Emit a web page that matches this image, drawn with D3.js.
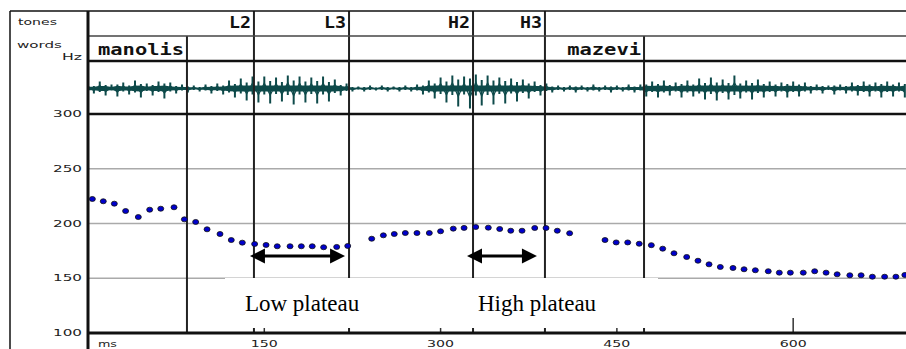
<!DOCTYPE html>
<html><head><meta charset="utf-8">
<script src="https://cdn.jsdelivr.net/npm/d3@7"></script>
<style>body{margin:0;background:#fff}svg{display:block}</style>
</head><body>
<svg id="chart" width="906" height="349"></svg>
<script>
// ---- data ----
const pitchTimes = [3.7,13,22.4,32,42.8,52.5,61.9,73.2,82,91.6,101.3,112.3,121.9,131.3,141.8,151.5,161,171.9,181.5,190.8,200.5,211.6,221,
  241.4,251.3,260.6,270,279.9,290.4,300,310.8,320,329.9,340.6,350.3,359.7,369.3,380.1,389.7,399.3,409.8,
  439.9,449.4,459.2,469,479.3,489,498.6,509.4,519,528.4,538,548.8,558.2,567.8,578.8,588.2,597.6,608.6,618.3,628,637.4,648.2,657.8,667.4,677.8,687.4,695];
const pitchHz = [222.4,220.3,218.1,211.4,205.9,212.6,213.5,214.8,203.8,201.4,194.7,190.4,184.9,182.5,181.3,180.4,179.2,179.2,179.2,179.2,178.3,178.6,179.5,
  186.1,189.2,190.4,191.3,191.3,191.3,192.9,195.3,196.0,196.8,196.2,195.0,193.4,193.4,195.9,195.9,193.4,191.1,
  184.9,182.7,182.7,181.5,180.2,177.0,172.8,169.4,166.0,162.7,160.3,159.4,158.2,157.3,156.4,155.1,155.1,155.1,156.4,155.1,153.6,152.7,152.7,151.4,151.4,151.4,153];
// waveform samples (alternating peaks, px-like amplitude units), one every 5 ms
const waveStep = 5;
const waveAmp = [5,-5,7,-7,4,-8,6,-6,8,-9,5,-7,7,-10,6,
  -5,4,-4,3,-3,4,-5,5,-6,
  8,-9,10,-12,12,
  -14,12,-15,11,-13,13,-16,12,-14,11,-15,12,-13,9,
  -7,5,
  -3,2,-3,3,-2,3,-3,2,-3,3,-3,4,
  -6,8,-10,11,-14,
  13,-18,12,-20,14,-17,13,
  -16,11,-15,10,-13,
  9,-10,7,-7,5,
  -4,3,-3,3,-4,3,-3,4,-3,3,-4,3,-3,4,-4,4,
  -8,7,-9,8,-7,6,-9,8,-8,10,-11,11,
  -12,9,-11,13,-10,8,-11,9,
  -9,7,-8,6,-9,7,-8,6,
  -5,4,-5,3,-6,4,-5,6,-7,
  7,-8,6,-9,7,-8,6,-9];
const yTicks = [300,250,200,150,100];
const gridHz = [250,200,150];
const xTicks = [150,300,450,600];
const toneLabels = ["L2","L3","H2","H3"];
const toneTimes = [141.2,222.1,327.6,388.8];
const wordLabels = ["manolis","mazevi"];
const wordStarts = [0,388.8];
const wordEnds = [84.2,473.1];
const wordBoundaries = [84.2,473.1];
const plateauLabels = ["Low plateau","High plateau"];
const plateauStart = [137.8,322.5];
const plateauEnd = [218.7,382];
const plateauLabelTime = [133.5,331.8];

// ---- layout ----
const svg = d3.select("#chart");
const W = 906, H = 349;
const frameLeft = 10, plotLeft = 88, topY = 11, tonesBottom = 36, wordsBottom = 61, waveBottom = 114, axisY = 333;
const x = d3.scaleLinear().domain([0,696]).range([plotLeft, W]);
const y = d3.scaleLinear().domain([100,300]).range([axisY, waveBottom]);
const ink = "#111";
const smallFont = "DejaVu Sans";
const monoFont = "DejaVu Sans Mono";
const waveColor = "#0e4a4a";

svg.append("rect").attr("width",W).attr("height",H).attr("fill","#fff");

// gridlines
svg.selectAll(".grid").data(gridHz).join("line")
  .attr("x1",plotLeft).attr("x2",W).attr("y1",d=>y(d)).attr("y2",d=>y(d))
  .attr("stroke","#aaa").attr("stroke-width",1.5);

// waveform
const waveCenter = 88.5;
const wy = d3.scaleLinear().domain([-20,20]).range([waveCenter+20, waveCenter-20]);
// core band
svg.append("path")
  .attr("d", d3.area().x((d,i)=>x(i*waveStep)).y0(d=>wy(-Math.min(3,Math.abs(d)*0.35))).y1(d=>wy(Math.min(3,Math.abs(d)*0.35)))(waveAmp))
  .attr("fill",waveColor);
// spikes
svg.selectAll(".spk").data(waveAmp).join("line")
  .attr("x1",(d,i)=>x(i*waveStep)).attr("x2",(d,i)=>x(i*waveStep))
  .attr("y1",d=>wy(-d*0.5)).attr("y2",d=>wy(d))
  .attr("stroke",waveColor).attr("stroke-width",2);
svg.append("path")
  .attr("d", d3.line().x((d,i)=>x(i*waveStep)).y(d=>wy(d*0.45))(waveAmp))
  .attr("fill","none").attr("stroke",waveColor).attr("stroke-width",1.2);

// tone point lines (full height), word boundaries (from words tier down)
svg.selectAll(".tone").data(toneTimes).join("line")
  .attr("x1",d=>x(d)).attr("x2",d=>x(d)).attr("y1",topY).attr("y2",axisY)
  .attr("stroke","#222").attr("stroke-width",2);
svg.selectAll(".wb").data(wordBoundaries).join("line")
  .attr("x1",d=>x(d)).attr("x2",d=>x(d)).attr("y1",tonesBottom).attr("y2",axisY)
  .attr("stroke","#222").attr("stroke-width",2);

// frame
svg.append("line").attr("x1",frameLeft).attr("x2",W).attr("y1",topY).attr("y2",topY).attr("stroke",ink).attr("stroke-width",1.5);
svg.append("line").attr("x1",frameLeft).attr("x2",frameLeft).attr("y1",topY).attr("y2",H).attr("stroke",ink).attr("stroke-width",1.5);
svg.append("line").attr("x1",plotLeft).attr("x2",W).attr("y1",tonesBottom).attr("y2",tonesBottom).attr("stroke","#444").attr("stroke-width",1.5);
svg.append("line").attr("x1",plotLeft).attr("x2",W).attr("y1",wordsBottom).attr("y2",wordsBottom).attr("stroke",ink).attr("stroke-width",2.5);
svg.append("line").attr("x1",plotLeft).attr("x2",W).attr("y1",waveBottom).attr("y2",waveBottom).attr("stroke",ink).attr("stroke-width",2.5);

// x ticks
svg.selectAll(".xt").data(xTicks).join("line")
  .attr("x1",d=>x(d)).attr("x2",d=>x(d)).attr("y1",axisY-15).attr("y2",axisY)
  .attr("stroke","#333").attr("stroke-width",1.5);

// white annotation box
svg.append("rect").attr("x",225).attr("y",278).attr("width",433).attr("height",50).attr("fill","#fff");

// axis line and plot left edge
svg.append("line").attr("x1",plotLeft).attr("x2",W).attr("y1",axisY).attr("y2",axisY).attr("stroke",ink).attr("stroke-width",3);
svg.append("line").attr("x1",plotLeft).attr("x2",plotLeft).attr("y1",topY).attr("y2",H).attr("stroke",ink).attr("stroke-width",3);

// pitch points
svg.selectAll(".pt").data(pitchTimes).join("ellipse")
  .attr("cx",d=>x(d)).attr("cy",(d,i)=>y(pitchHz[i])).attr("rx",3).attr("ry",2.5)
  .attr("fill","#0000cc").attr("stroke","#111").attr("stroke-width",0.8);

// y tick labels
svg.selectAll(".yl").data(yTicks).join("text")
  .attr("x",53).attr("y",d=>y(d)+3).text(d=>d)
  .attr("font-family",smallFont).attr("font-size",8.5).attr("textLength",29).attr("lengthAdjust","spacingAndGlyphs").attr("fill","#222");
// x tick labels
svg.selectAll(".xl").data(xTicks).join("text")
  .attr("x",d=>x(d)).attr("y",347).attr("text-anchor","middle").text(d=>d)
  .attr("font-family",smallFont).attr("font-size",8.5).attr("textLength",27).attr("lengthAdjust","spacingAndGlyphs").attr("fill","#222");
svg.append("text").attr("x",98).attr("y",347).text("ms")
  .attr("font-family",smallFont).attr("font-size",8.5).attr("textLength",19).attr("lengthAdjust","spacingAndGlyphs").attr("fill","#222");

// left panel labels
const sideLabels = [["tones",18,25,39],["words",17,48,45],["Hz",62,60,20]];
svg.selectAll(".side").data(sideLabels).join("text")
  .attr("x",d=>d[1]).attr("y",d=>d[2]).attr("textLength",d=>d[3]).attr("lengthAdjust","spacingAndGlyphs")
  .text(d=>d[0]).attr("font-family",smallFont).attr("font-size",8.5).attr("fill","#222");

// tone labels
svg.selectAll(".tl").data(toneLabels).join("text")
  .attr("x",(d,i)=>x(toneTimes[i])-25).attr("y",28).text(d=>d)
  .attr("textLength",22).attr("lengthAdjust","spacingAndGlyphs")
  .attr("font-family",monoFont).attr("font-weight","bold").attr("font-size",16).attr("fill","#111");
// word labels
svg.selectAll(".wl").data(wordLabels).join("text")
  .attr("x",(d,i)=> i===0 ? x(wordStarts[i])+10 : x(wordEnds[i])-3 - d.length*12.3)
  .attr("y",55).text(d=>d)
  .attr("textLength",d=>d.length*12.3).attr("lengthAdjust","spacingAndGlyphs")
  .attr("font-family",monoFont).attr("font-weight","bold").attr("font-size",16).attr("fill","#111");

// plateau arrows
const arrowHz = 170.3, head = 15, half = 7.5;
plateauStart.forEach((s,i)=>{
  const x1 = x(s), x2 = x(plateauEnd[i]), ay = y(arrowHz);
  svg.append("line").attr("x1",x1+head-2).attr("x2",x2-head+2).attr("y1",ay).attr("y2",ay).attr("stroke","#000").attr("stroke-width",3);
  svg.append("path").attr("d",`M${x1},${ay}L${x1+head},${ay-half}L${x1+head},${ay+half}Z`).attr("fill","#000");
  svg.append("path").attr("d",`M${x2},${ay}L${x2-head},${ay-half}L${x2-head},${ay+half}Z`).attr("fill","#000");
});
svg.selectAll(".pl").data(plateauLabels).join("text")
  .attr("x",(d,i)=>x(plateauLabelTime[i])).attr("y",y(120.1)).text(d=>d)
  .attr("font-family","Liberation Serif").attr("font-size",23).attr("fill","#000");
</script>
</body></html>
